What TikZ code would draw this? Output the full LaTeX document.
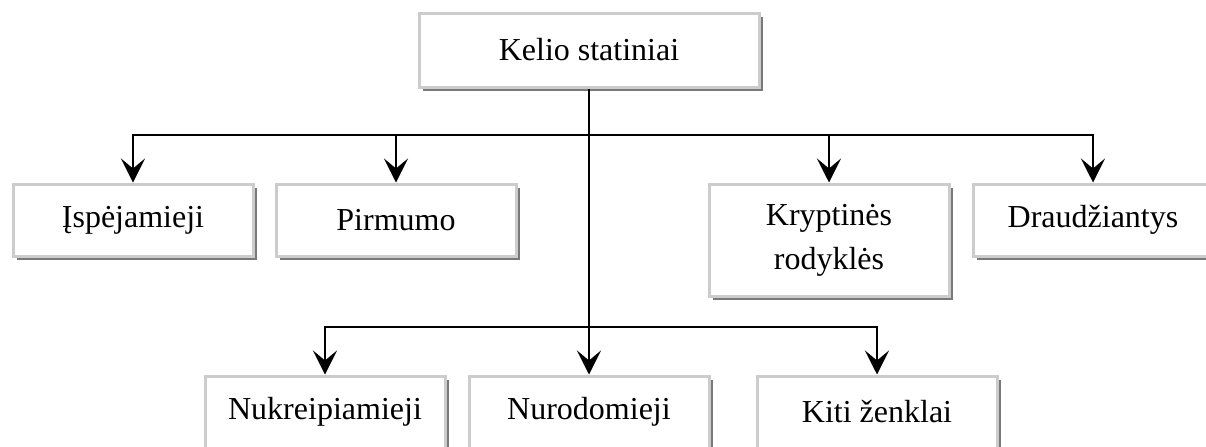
\documentclass[tikz,border=0pt]{standalone}
\usepackage{fontspec}
\setmainfont{Liberation Serif}
\usetikzlibrary{arrows.meta,shadows}

\tikzset{
  sign/.style={
    rectangle, draw=gray!40, line width=1.5pt, fill=white,
    minimum width=120pt, minimum height=36pt, inner sep=2pt,
    align=center, font=\fontsize{16}{22}\selectfont,
    drop shadow={shadow xshift=2pt, shadow yshift=-2pt,
                 fill=gray!95!black, opacity=1}
  },
  link/.style={line width=1pt, draw=black},
  arrow/.style={link, -{Stealth[length=12pt,width=12pt,inset=5pt]}}
}

\begin{document}
\begin{tikzpicture}[x=0.5pt,y=-0.5pt]
  \useasboundingbox (0,0) rectangle (1206,446);
  \clip (0,0) rectangle (1206,446);

  % root
  \node[sign, minimum width=170pt, minimum height=37pt] (root) at (589,50) {Kelio statiniai};

  % first row
  \node[sign] (isp) at (133,220) {Įspėjamieji};
  \node[sign] (pir) at (396,220) {Pirmumo};
  \node[sign, minimum height=56pt] (kry) at (829,240) {Kryptinės\\rodyklės};
  \node[sign] (dra) at (1093,220) {Draudžiantys};

  % second row
  \node[sign] (nuk) at (325,412) {Nukreipiamieji};
  \node[sign] (nur) at (589,412) {Nurodomieji};
  \node[sign] (kit) at (877,412) {Kiti ženklai};

  % branch points on the trunk
  \coordinate (b1) at (589,135);
  \coordinate (b2) at (589,327);

  % trunk
  \draw[arrow] (root.south) -- (nur.north);

  % first-row branches
  \draw[arrow] (b1) -| (isp.north);
  \draw[arrow] (b1) -| (pir.north);
  \draw[arrow] (b1) -| (kry.north);
  \draw[arrow] (b1) -| (dra.north);

  % second-row branches
  \draw[arrow] (b2) -| (nuk.north);
  \draw[arrow] (b2) -| (kit.north);
\end{tikzpicture}
\end{document}
